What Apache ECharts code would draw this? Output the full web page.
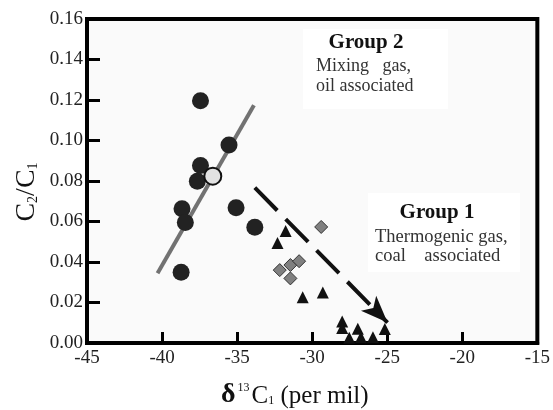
<!DOCTYPE html>
<html>
<head>
<meta charset="utf-8">
<script src="https://cdn.jsdelivr.net/npm/echarts@6/dist/echarts.min.js"></script>
<style>
  html, body { margin: 0; padding: 0; background: #fff; }
  #chart { width: 553px; height: 410px; }
</style>
</head>
<body>
<div id="chart"></div>
<script>
  // Group 2 (circles), one light circle, Group 1 (triangles, diamonds)
  var circles = [
    [-37.44, 0.1196], [-35.54, 0.0978], [-37.44, 0.0876], [-37.65, 0.0799],
    [-38.67, 0.0663], [-38.45, 0.0595], [-38.73, 0.0349],
    [-35.07, 0.0668], [-33.82, 0.0572]
  ];
  var lightCircle = [[-36.62, 0.0824]];
  var triangles = [
    [-31.77, 0.0553], [-32.31, 0.0494], [-30.63, 0.0226], [-29.29, 0.0249],
    [-28.0, 0.0106], [-28.0, 0.0074], [-27.53, 0.0026], [-26.96, 0.0070],
    [-26.75, 0.0028], [-25.95, 0.0028], [-25.16, 0.0069]
  ];
  var diamonds = [
    [-29.4, 0.0573], [-32.16, 0.0360], [-31.45, 0.0385], [-30.87, 0.0404], [-31.45, 0.0319]
  ];
  var trendLine = [[-40.3, 0.0345], [-33.88, 0.1174]];
  var arrowLine = [[-33.82, 0.0767], [-24.98, 0.0101]];
  var xTicks = { min: -45, max: -15, interval: 5 };
  var yTicks = { min: 0, max: 0.16, interval: 0.02 };

  var serif = 'Liberation Serif';
  var labelRich = { t: { fontFamily: serif, fontSize: 19, color: '#222' } };
  var myChart = echarts.init(document.getElementById('chart'));
  myChart.setOption({
    animation: false,
    textStyle: { fontFamily: serif, fontSize: 18, color: '#222' },
    grid: {
      left: 87,
      right: 3,
      top: 19,
      bottom: 67,
      show: true,
      backgroundColor: '#fafafa',
      borderColor: '#000',
      borderWidth: 4
    },
    xAxis: {
      type: 'value',
      min: xTicks.min,
      max: xTicks.max,
      interval: xTicks.interval,
      splitLine: { show: false },
      axisLine: { onZero: false, lineStyle: { color: '#000', width: 4 } },
      axisTick: { inside: true, length: 11, lineStyle: { color: '#000', width: 3 } },
      axisLabel: {
        margin: 6,
        formatter: function (v) { return '{t|' + v + '}'; },
        rich: labelRich
      }
    },
    yAxis: {
      type: 'value',
      min: yTicks.min,
      max: yTicks.max,
      interval: yTicks.interval,
      splitLine: { show: false },
      axisLine: { lineStyle: { color: '#000', width: 4 } },
      axisTick: { inside: true, length: 13, lineStyle: { color: '#000', width: 3 } },
      axisLabel: {
        margin: 4,
        formatter: function (v) { return '{t|' + v.toFixed(2) + '}'; },
        rich: labelRich
      }
    },
    graphic: [
      { type: 'rect', left: 303, top: 29, shape: { width: 145, height: 80 }, style: { fill: '#fff' }, z: 1 },
      { type: 'rect', left: 368, top: 193, shape: { width: 152, height: 79 }, style: { fill: '#fff' }, z: 1 },
      {
        type: 'text', x: 366, y: 43, z: 10,
        style: { text: 'Group 2', font: 'bold 21px ' + serif, fill: '#111', align: 'center', verticalAlign: 'middle' }
      },
      {
        type: 'text', x: 316, y: 66, z: 10,
        style: { text: 'Mixing   gas,', font: '18px ' + serif, fill: '#333', align: 'left', verticalAlign: 'middle' }
      },
      {
        type: 'text', x: 316, y: 86, z: 10,
        style: { text: 'oil associated', font: '18px ' + serif, fill: '#333', align: 'left', verticalAlign: 'middle' }
      },
      {
        type: 'text', x: 437, y: 213, z: 10,
        style: { text: 'Group 1', font: 'bold 21px ' + serif, fill: '#111', align: 'center', verticalAlign: 'middle' }
      },
      {
        type: 'text', x: 375, y: 237, z: 10,
        style: { text: 'Thermogenic gas,', font: '18.5px ' + serif, fill: '#333', align: 'left', verticalAlign: 'middle' }
      },
      {
        type: 'text', x: 375, y: 256, z: 10,
        style: { text: 'coal    associated', font: '18.5px ' + serif, fill: '#333', align: 'left', verticalAlign: 'middle' }
      },
      {
        type: 'text', x: 221, y: 394, z: 10,
        style: {
          text: '{d|δ}{sup|13}{m|C}{sub|1}{m| (per mil)}',
          verticalAlign: 'middle',
          rich: {
            d: { font: 'bold 28px ' + serif, fill: '#111', lineHeight: 30, verticalAlign: 'bottom' },
            sup: { font: '12px ' + serif, fill: '#111', lineHeight: 30, verticalAlign: 'top', padding: [3, 2, 0, 2] },
            m: { font: '25px ' + serif, fill: '#111', lineHeight: 30, verticalAlign: 'bottom' },
            sub: { font: '12px ' + serif, fill: '#111', lineHeight: 30, verticalAlign: 'bottom', padding: [0, 0, 2, 0] }
          }
        }
      },
      {
        type: 'text', x: 25, y: 192, rotation: Math.PI / 2, z: 10,
        style: {
          text: '{m|C}{sub|2}{m|/C}{sub|1}',
          align: 'center',
          verticalAlign: 'middle',
          rich: {
            m: { font: '28px ' + serif, fill: '#111', lineHeight: 32, verticalAlign: 'bottom' },
            sub: { font: '14px ' + serif, fill: '#111', lineHeight: 32, verticalAlign: 'bottom', padding: [0, 0, 1, 0] }
          }
        }
      }
    ],
    series: [
      {
        type: 'line',
        data: trendLine,
        symbol: 'none',
        lineStyle: { color: '#727272', width: 4 },
        z: 3
      },
      {
        // tip of the arrow sits on the end point; width is 4/3 of the first size value
        type: 'lines',
        coordinateSystem: 'cartesian2d',
        data: [{ coords: arrowLine }],
        symbol: ['none', 'arrow'],
        symbolSize: [[1, 1], [16, 27]],
        lineStyle: { color: '#111', width: 4, type: [32, 12], opacity: 1 },
        z: 3
      },
      {
        type: 'scatter',
        data: circles,
        symbol: 'circle',
        symbolSize: 17,
        itemStyle: { color: '#222', opacity: 1 },
        z: 4
      },
      {
        type: 'scatter',
        data: lightCircle,
        symbol: 'circle',
        symbolSize: 17,
        itemStyle: { color: '#e2e2e2', borderColor: '#111', borderWidth: 2, opacity: 1 },
        z: 5
      },
      {
        type: 'scatter',
        data: triangles,
        symbol: 'triangle',
        symbolSize: 12,
        itemStyle: { color: '#111', opacity: 1 },
        z: 4
      },
      {
        type: 'scatter',
        data: diamonds,
        symbol: 'diamond',
        symbolSize: 13,
        itemStyle: { color: '#808080', borderColor: '#333', borderWidth: 1, opacity: 1 },
        z: 4
      }
    ]
  });
</script>
</body>
</html>
